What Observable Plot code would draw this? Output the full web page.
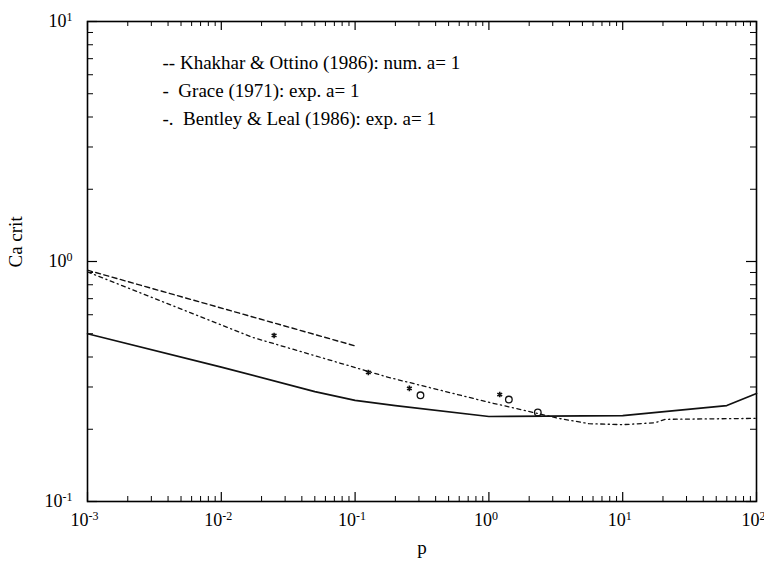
<!DOCTYPE html>
<html>
<head>
<meta charset="utf-8">
<script src="https://cdn.jsdelivr.net/npm/d3@7"></script>
<script src="https://cdn.jsdelivr.net/npm/@observablehq/plot@0.6"></script>
<style>
  body { margin: 0; background: #fff; }
</style>
</head>
<body>
<div id="chart"></div>
<script>
// Critical capillary number versus viscosity ratio p (log-log)

// Grace (1971), experiment, a = 1 (solid)
const graceP  = [0.001, 0.01, 0.05, 0.1, 0.2, 1, 10, 60, 100];
const graceCa = [0.50, 0.363, 0.287, 0.264, 0.251, 0.226, 0.228, 0.251, 0.282];

// Khakhar & Ottino (1986), numerical, a = 1 (dashed)
const khakharP  = [0.001, 0.1];
const khakharCa = [0.92, 0.445];

// Bentley & Leal (1986), experiment, a = 1 (dash-dot)
const bentleyP  = [0.001, 0.0173, 0.178, 1.0, 3.34, 5.6, 10, 17.5, 20.8, 100];
const bentleyCa = [0.905, 0.482, 0.329, 0.259, 0.222, 0.211, 0.209, 0.213, 0.220, 0.222];

// measured points
const starP    = [0.0248, 0.1256, 0.2545, 1.205];
const starCa   = [0.492, 0.345, 0.296, 0.279];
const circleP  = [0.308, 1.41, 2.32];
const circleCa = [0.277, 0.266, 0.235];

const legendLabels = [
  "-- Khakhar & Ottino (1986): num. a= 1",
  "-\u00a0\u00a0Grace (1971): exp. a= 1",
  "-.\u00a0\u00a0Bentley & Leal (1986): exp. a= 1"
];

const xDecades = [0.001, 0.01, 0.1, 1, 10, 100];
const yDecades = [0.1, 1, 10];
const minorSteps = [2, 3, 4, 5, 6, 7, 8, 9];

const xLabel = "p";
const yLabel = "Ca crit";

// layout
const W = 764, H = 565;
const ML = 87, MR = 8, MT = 21, MB = 64;
const FW = W - ML - MR, FH = H - MT - MB;

const rows = (xs, ys) => xs.map((x, i) => ({p: x, ca: ys[i]}));
const minorOf = decades => decades.slice(0, -1).flatMap(d => minorSteps.map(k => k * d));
const exponent = d => String(Math.round(Math.log10(d)));

const xMinor = minorOf(xDecades);
const yMinor = minorOf(yDecades);

const ink = "#111";

const plot = Plot.plot({
  width: W,
  height: H,
  marginLeft: ML,
  marginRight: MR,
  marginTop: MT,
  marginBottom: MB,
  style: {
    fontFamily: '"Liberation Serif", "Times New Roman", serif',
    fontSize: "18px",
    color: "#000",
    background: "#fff",
    overflow: "visible"
  },
  x: {type: "log", domain: [1e-3, 1e2]},
  y: {type: "log", domain: [0.1, 10]},
  marks: [
    // tick labels (exponent only; "10" base added below)
    Plot.axisX({ticks: xDecades, anchor: "bottom", tickSize: 0, tickPadding: 12, tickFormat: exponent, label: null, dx: -3}),
    Plot.axisY({ticks: yDecades, anchor: "left", tickSize: 0, tickPadding: 15, tickFormat: exponent, label: null}),

    // inward ticks on all four sides
    Plot.tickX(xDecades, {x: d => d, insetTop: FH - 9, stroke: "#000", strokeWidth: 1.2}),
    Plot.tickX(xMinor,   {x: d => d, insetTop: FH - 5, stroke: "#000"}),
    Plot.tickX(xDecades, {x: d => d, insetBottom: FH - 9, stroke: "#000", strokeWidth: 1.2}),
    Plot.tickX(xMinor,   {x: d => d, insetBottom: FH - 5, stroke: "#000"}),
    Plot.tickY(yDecades, {y: d => d, insetRight: FW - 10, stroke: "#000", strokeWidth: 1.2}),
    Plot.tickY(yMinor,   {y: d => d, insetRight: FW - 6, stroke: "#000"}),
    Plot.tickY(yDecades, {y: d => d, insetLeft: FW - 10, stroke: "#000", strokeWidth: 1.2}),
    Plot.tickY(yMinor,   {y: d => d, insetLeft: FW - 6, stroke: "#000"}),

    Plot.frame({stroke: "#000", strokeWidth: 1.6}),

    // curves
    Plot.line(rows(graceP, graceCa), {x: "p", y: "ca", stroke: ink, strokeWidth: 1.7}),
    Plot.line(rows(khakharP, khakharCa), {x: "p", y: "ca", stroke: ink, strokeWidth: 1.4, strokeDasharray: "5,3.5"}),
    Plot.line(rows(bentleyP, bentleyCa), {x: "p", y: "ca", stroke: ink, strokeWidth: 1.3, strokeDasharray: "4,3.5,1.2,3.5"}),

    // points
    Plot.dot(rows(starP, starCa), {x: "p", y: "ca", symbol: "asterisk", r: 2.6, stroke: ink, strokeWidth: 1.6}),
    Plot.dot(rows(circleP, circleCa), {x: "p", y: "ca", symbol: "circle", r: 3.3, fill: "none", stroke: ink, strokeWidth: 1.3}),

    // legend inside the frame
    ...legendLabels.map((label, i) =>
      Plot.text([label], {frameAnchor: "top-left", textAnchor: "start", lineAnchor: "middle",
        dx: 75, dy: 41 + 28 * i, fontSize: 19, fill: "#000"})
    ),

    // axis titles
    Plot.text([yLabel], {frameAnchor: "left", rotate: -90, dx: -72, dy: 6, fontSize: 19, fill: "#000"}),
    Plot.text([xLabel], {frameAnchor: "bottom", dy: 52, fontSize: 19, fill: "#000"})
  ]
});

// turn the exponent labels into 10 with a superscript exponent
const NS = "http://www.w3.org/2000/svg";
plot.querySelectorAll('g[aria-label="x-axis tick label"] text, g[aria-label="y-axis tick label"] text').forEach(t => {
  const e = t.textContent;
  t.textContent = "";
  const base = document.createElementNS(NS, "tspan");
  base.textContent = "10";
  const sup = document.createElementNS(NS, "tspan");
  sup.setAttribute("dy", "-6");
  sup.setAttribute("font-size", "12");
  sup.textContent = e;
  t.appendChild(base);
  t.appendChild(sup);
});

document.getElementById("chart").appendChild(plot);
</script>
</body>
</html>
